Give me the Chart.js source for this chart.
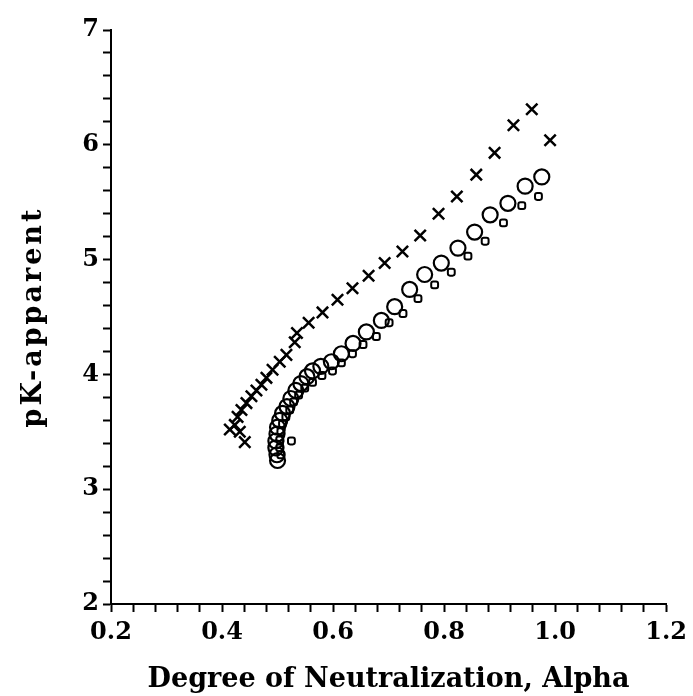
<!DOCTYPE html>
<html>
<head>
<meta charset="utf-8">
<script src="https://cdn.jsdelivr.net/npm/chart.js@4/dist/chart.umd.min.js"></script>
<style>
  html, body { margin: 0; padding: 0; background: #fff; }
  #wrap { width: 693px; height: 696px; }
</style>
</head>
<body>
<div id="wrap"><canvas id="myChart" width="693" height="696"></canvas></div>
<script>
// crosses (upper curve)
const crossAlpha = [0.441, 0.414, 0.423, 0.428, 0.432, 0.435, 0.444, 0.453, 0.462, 0.471, 0.480, 0.491, 0.504, 0.516, 0.531,
  0.535, 0.556, 0.581, 0.608, 0.635, 0.664, 0.693, 0.725, 0.757, 0.790, 0.823, 0.858, 0.891, 0.925, 0.958, 0.991];
const crossPk = [3.41, 3.52, 3.56, 3.63, 3.50, 3.69, 3.75, 3.81, 3.86, 3.91, 3.97, 4.04, 4.11, 4.17, 4.28,
  4.36, 4.45, 4.54, 4.65, 4.75, 4.86, 4.97, 5.07, 5.21, 5.40, 5.55, 5.74, 5.93, 6.17, 6.31, 6.04];

// large circles
const circleAlpha = [0.500, 0.499, 0.497, 0.497, 0.499, 0.500, 0.504, 0.509, 0.517, 0.524, 0.533, 0.542, 0.553, 0.563, 0.578,
  0.597, 0.615, 0.636, 0.660, 0.687, 0.711, 0.738, 0.765, 0.795, 0.825, 0.855, 0.883, 0.915, 0.946, 0.976];
const circlePk = [3.25, 3.30, 3.36, 3.42, 3.48, 3.54, 3.60, 3.66, 3.72, 3.79, 3.86, 3.92, 3.98, 4.03, 4.07,
  4.11, 4.18, 4.27, 4.37, 4.47, 4.59, 4.74, 4.87, 4.97, 5.10, 5.24, 5.39, 5.49, 5.64, 5.72];

// small squares
const squareAlpha = [0.506, 0.504, 0.504, 0.525, 0.506, 0.509, 0.515, 0.522, 0.529, 0.538, 0.549, 0.563, 0.580,
  0.599, 0.615, 0.635, 0.654, 0.678, 0.701, 0.726, 0.753, 0.783, 0.813, 0.843, 0.874, 0.907, 0.940, 0.970];
const squarePk = [3.30, 3.36, 3.43, 3.42, 3.50, 3.57, 3.63, 3.69, 3.76, 3.82, 3.88, 3.93, 3.99,
  4.03, 4.10, 4.18, 4.26, 4.33, 4.45, 4.53, 4.66, 4.78, 4.89, 5.03, 5.16, 5.32, 5.47, 5.55];

const xTickLabels = ['0.2', '0.4', '0.6', '0.8', '1.0', '1.2'];
const yTickLabels = ['2', '3', '4', '5', '6', '7'];

function toPoints(xs, ys) {
  return xs.map((x, i) => ({ x: x, y: ys[i] }));
}

const font = { family: 'DejaVu Serif', weight: 'bold', size: 24 };

const ctx = document.getElementById('myChart').getContext('2d');
const myChart = new Chart(ctx, {
  type: 'scatter',
  data: {
    datasets: [
      {
        label: 'x',
        data: toPoints(crossAlpha, crossPk),
        pointStyle: 'crossRot',
        pointRadius: 8,
        borderColor: '#000',
        borderWidth: 2.5,
        backgroundColor: '#000'
      },
      {
        label: 'o',
        data: toPoints(circleAlpha, circlePk),
        pointStyle: 'circle',
        pointRadius: 7.5,
        borderColor: '#000',
        borderWidth: 2.2,
        backgroundColor: 'rgba(255,255,255,0)'
      },
      {
        label: 's',
        data: toPoints(squareAlpha, squarePk),
        pointStyle: 'rectRounded',
        pointRadius: 4,
        borderColor: '#000',
        borderWidth: 2,
        backgroundColor: 'rgba(255,255,255,0)'
      }
    ]
  },
  options: {
    responsive: false,
    animation: false,
    layout: { padding: { left: 6, top: 30, right: 25, bottom: 0 } },
    plugins: { legend: { display: false }, tooltip: { enabled: false } },
    scales: {
      x: {
        type: 'linear',
        min: 0.2,
        max: 1.2,
        afterFit: (scale) => { scale.height = 92; },
        border: { color: '#000', width: 2 },
        grid: { drawOnChartArea: false, tickLength: 8, tickColor: '#000', tickWidth: 2 },
        ticks: {
          stepSize: 0.04,
          autoSkip: false,
          maxRotation: 0,
          padding: 6,
          color: '#000',
          font: font,
          callback: (v) => {
            const k = Math.round(v * 5);
            if (Math.abs(v * 5 - k) > 1e-6) return '';
            return xTickLabels[k - 1];
          }
        },
        title: {
          display: true,
          text: 'Degree of Neutralization, Alpha',
          color: '#000',
          font: { family: 'DejaVu Serif', weight: 'bold', size: 27 },
          padding: { top: 12, bottom: 0 }
        }
      },
      y: {
        type: 'linear',
        min: 2,
        max: 7,
        afterFit: (scale) => { scale.width = 105; },
        border: { color: '#000', width: 2 },
        grid: { drawOnChartArea: false, tickLength: 8, tickColor: '#000', tickWidth: 2 },
        ticks: {
          stepSize: 0.2,
          autoSkip: false,
          padding: 4,
          color: '#000',
          font: font,
          callback: (v) => {
            const k = Math.round(v);
            if (Math.abs(v - k) > 1e-6) return '';
            return yTickLabels[k - 2];
          }
        },
        title: {
          display: true,
          text: 'pK-apparent',
          color: '#000',
          font: { family: 'DejaVu Serif', weight: 'bold', size: 27 },
          padding: { top: 12, bottom: 0 }
        }
      }
    }
  }
});

// a bit of letter spacing for the y axis title, as in the original
const yScale = myChart.scales.y;
const drawYTitle = yScale.drawTitle.bind(yScale);
yScale.drawTitle = function () {
  ctx.save();
  ctx.letterSpacing = '3px';
  drawYTitle();
  ctx.restore();
};
myChart.draw();
</script>
</body>
</html>
